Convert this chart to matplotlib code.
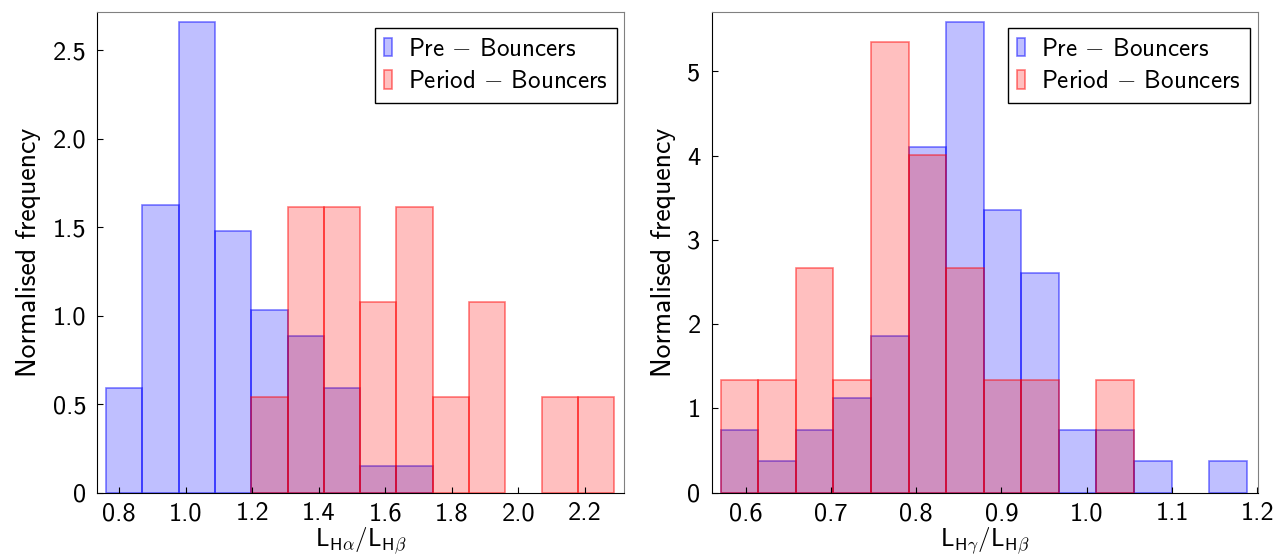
import numpy as np
import matplotlib
matplotlib.use("Agg")
import matplotlib.pyplot as plt
from matplotlib.ticker import FuncFormatter

# --- data (normalised histograms, 14 bins each) ---
# L_Halpha / L_Hbeta
ha_range = (0.760, 2.289)
ha_pre = [0.591, 1.625, 2.659, 1.477, 1.034, 0.886, 0.591, 0.148, 0.148, 0, 0, 0, 0, 0]
ha_period = [0, 0, 0, 0, 0.539, 1.616, 1.616, 1.077, 1.616, 0.539, 1.077, 0, 0.539, 0.539]
ha_xticks = [0.8, 1.0, 1.2, 1.4, 1.6, 1.8, 2.0, 2.2]
ha_yticks = [0, 0.5, 1.0, 1.5, 2.0, 2.5]

# L_Hgamma / L_Hbeta
hg_range = (0.5707, 1.1876)
hg_pre = [0.745, 0.373, 0.745, 1.118, 1.863, 4.10, 5.59, 3.35, 2.61, 0.745, 0.745, 0.373, 0, 0.373]
hg_period = [1.336, 1.336, 2.672, 1.336, 5.344, 4.008, 2.672, 1.336, 1.336, 0, 1.336, 0, 0, 0]
hg_xticks = [0.6, 0.7, 0.8, 0.9, 1.0, 1.1, 1.2]
hg_yticks = [0, 1, 2, 3, 4, 5]

labels = ["Pre $-$ Bouncers", "Period $-$ Bouncers"]

plt.rcParams["font.family"] = "cmss10"
plt.rcParams["mathtext.fontset"] = "cm"
plt.rcParams["axes.unicode_minus"] = False

W, H = 1281, 558
fig = plt.figure(figsize=(W / 100, H / 100), dpi=100)


def panel(rect, rng, pre, period, xticks, yticks, xlim, ylim, xlabel, yfmt):
    ax = fig.add_axes([rect[0] / W, 1 - rect[3] / H, (rect[2] - rect[0]) / W, (rect[3] - rect[1]) / H])
    edges = np.linspace(rng[0], rng[1], len(pre) + 1)
    widths = np.diff(edges)
    for vals, c, lab in [(pre, (0, 0, 1), labels[0]), (period, (1, 0, 0), labels[1])]:
        vals = np.asarray(vals, dtype=float)
        keep = vals > 0
        ax.bar(edges[:-1][keep], vals[keep], width=widths[keep], align="edge",
               facecolor=c + (0.25,), edgecolor=c + (0.5,), linewidth=1.2, label=lab)
    ax.set_xlim(*xlim)
    ax.set_ylim(*ylim)
    ax.set_xticks(xticks)
    ax.set_yticks(yticks)
    ax.xaxis.set_major_formatter(FuncFormatter(lambda v, p: f"{v:.1f}"))
    ax.yaxis.set_major_formatter(FuncFormatter(yfmt))
    ax.tick_params(direction="in", length=4, width=0.8, top=False, right=False, labelsize=19)
    ax.tick_params(axis="x", pad=7)
    ax.tick_params(axis="y", pad=8)
    for s in ["top", "right"]:
        ax.spines[s].set_color("0.5")
    ax.set_xlabel(xlabel, fontsize=18, labelpad=0)
    ax.set_ylabel("Normalised frequency", fontsize=20, labelpad=8)
    leg = ax.legend(loc="upper right", bbox_to_anchor=(0.986, 0.967), borderaxespad=0,
                    fancybox=False, framealpha=1, edgecolor="black", fontsize=18,
                    handlelength=0.3, handleheight=0.75, handletextpad=0.65, borderpad=0.38,
                    labelspacing=0.38)
    leg.get_frame().set_linewidth(1.0)
    return ax


panel((97.3, 12.3, 624.3, 492.7), ha_range, ha_pre, ha_period, ha_xticks, ha_yticks,
      (0.734, 2.319), (0, 2.713),
      r"$\mathsf{L}_{\mathsf{H}\alpha}/\mathsf{L}_{\mathsf{H}\beta}$",
      lambda v, p: "0" if v == 0 else f"{v:.1f}")
panel((711.7, 12.3, 1257.7, 492.7), hg_range, hg_pre, hg_period, hg_xticks, hg_yticks,
      (0.5601, 1.2005), (0, 5.70),
      r"$\mathsf{L}_{\mathsf{H}\gamma}/\mathsf{L}_{\mathsf{H}\beta}$",
      lambda v, p: f"{v:.0f}")

fig.savefig("out.png", dpi=100)
